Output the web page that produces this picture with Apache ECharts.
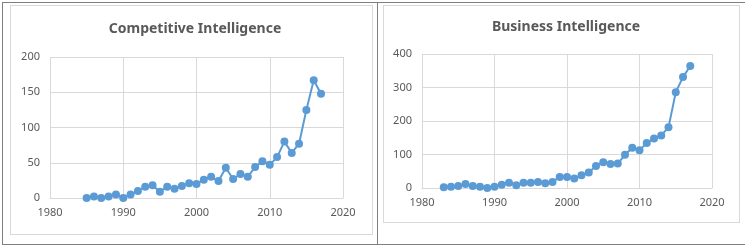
<!DOCTYPE html>
<html>
<head>
<meta charset="utf-8">
<script src="https://cdn.jsdelivr.net/npm/echarts@6/dist/echarts.min.js"></script>
<style>
  html, body { margin: 0; padding: 0; background: #fff; }
  #wrap { position: relative; width: 745px; height: 246px; overflow: hidden; }
  #chart { position: absolute; left: 0; top: 0; width: 745px; height: 246px; }
  .frame { position: absolute; box-sizing: border-box; }
  .outer { left: 2px; top: 2px; width: 760px; height: 243px; border: 1px solid #7f7f7f; border-right: none; }
  .divider { left: 377px; top: 2px; width: 1px; height: 243px; background: #7f7f7f; }
  .box { border: 1px solid #d9d9d9; }
  .box1 { left: 10px; top: 5px; width: 363px; height: 230px; }
  .box2 { left: 383px; top: 5px; width: 357px; height: 218px; }
</style>
</head>
<body>
<div id="wrap">
  <div class="frame outer"></div>
  <div class="frame divider"></div>
  <div class="frame box box1"></div>
  <div class="frame box box2"></div>
  <div id="chart"></div>
</div>
<script>
// Competitive Intelligence, 1985-2017
const ciYears = [1985, 1986, 1987, 1988, 1989, 1990, 1991, 1992, 1993, 1994, 1995, 1996, 1997, 1998, 1999, 2000, 2001,
  2002, 2003, 2004, 2005, 2006, 2007, 2008, 2009, 2010, 2011, 2012, 2013, 2014, 2015, 2016, 2017]
const ciValues = [0, 2, 0, 2, 5, 0, 5, 10, 16, 18, 9, 16, 13, 17, 21, 20, 26,
  30, 24, 43, 27, 34, 30, 44, 52, 47, 58, 80, 64, 77, 125, 167, 148]

// Business Intelligence, 1983-2017
const biYears = [1983, 1984, 1985, 1986, 1987, 1988, 1989, 1990, 1991, 1992, 1993, 1994, 1995, 1996, 1997, 1998, 1999,
  2000, 2001, 2002, 2003, 2004, 2005, 2006, 2007, 2008, 2009, 2010, 2011, 2012, 2013, 2014, 2015, 2016, 2017]
const biValues = [2, 4, 6, 12, 6, 4, 0, 4, 10, 16, 8, 16, 16, 18, 14, 18, 33,
  33, 28, 38, 46, 66, 77, 72, 73, 99, 120, 113, 134, 148, 157, 181, 286, 331, 364]

const titles = ['Competitive Intelligence', 'Business Intelligence']

const FONT = 'Noto Sans'
const LABEL = '#595959'
const GRID = '#d9d9d9'
const BLUE = '#5B9BD5'

function xAxis(gridIndex) {
  return {
    type: 'value', gridIndex, min: 1980, max: 2020, interval: 10,
    axisLine: { show: true, lineStyle: { color: GRID } },
    axisTick: { show: false },
    axisLabel: { color: LABEL, fontSize: 11, fontFamily: FONT, margin: 9, formatter: v => String(v) },
    splitLine: { show: true, lineStyle: { color: GRID } },
  }
}

function yAxis(gridIndex, max, interval) {
  return {
    type: 'value', gridIndex, min: 0, max, interval,
    axisLine: { show: false },
    axisTick: { show: false },
    axisLabel: { color: LABEL, fontSize: 11, fontFamily: FONT, margin: 10 },
    splitLine: { lineStyle: { color: GRID } },
  }
}

function lineSeries(idx, xs, ys) {
  return {
    type: 'line', xAxisIndex: idx, yAxisIndex: idx,
    data: xs.map((x, i) => [x, ys[i]]),
    symbol: 'circle', symbolSize: 8,
    lineStyle: { color: BLUE, width: 2 },
    itemStyle: { color: BLUE },
    animation: false,
  }
}

const chart = echarts.init(document.getElementById('chart'))
chart.setOption({
  animation: false,
  title: [
    { text: titles[0], left: 190, top: 17, textAlign: 'center',
      textStyle: { color: LABEL, fontSize: 14, fontWeight: 'bold', fontFamily: FONT } },
    { text: titles[1], left: 561, top: 15, textAlign: 'center',
      textStyle: { color: LABEL, fontSize: 14, fontWeight: 'bold', fontFamily: FONT } },
  ],
  grid: [
    { left: 50, right: 402, top: 57, bottom: 48 },
    { left: 422, right: 33, top: 54, bottom: 58 },
  ],
  xAxis: [xAxis(0), xAxis(1)],
  yAxis: [yAxis(0, 200, 50), yAxis(1, 400, 100)],
  series: [lineSeries(0, ciYears, ciValues), lineSeries(1, biYears, biValues)],
})
</script>
</body>
</html>
